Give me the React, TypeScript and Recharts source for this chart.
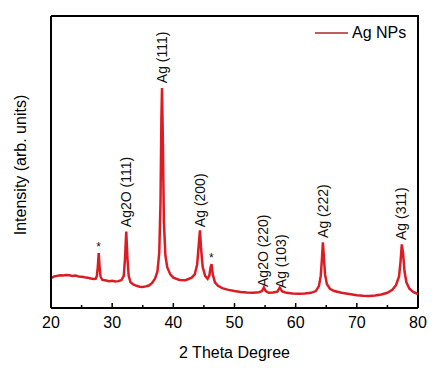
import { ComposedChart, Line, Scatter, XAxis, YAxis, Label, Legend } from 'recharts';

// XRD pattern (arbitrary intensity units, 0-1000 scale)
const angles = [
  20.0, 20.5, 21.0, 21.5, 22.0, 22.5, 23.0, 23.5, 24.0, 24.5, 25.0, 25.5, 26.0, 26.5, 27.0, 27.3, 27.5, 27.65, 27.8, 27.95,
  28.1, 28.4, 29.0, 29.5, 30.0, 30.5, 31.0, 31.5, 31.9, 32.1, 32.3, 32.5, 32.7, 33.0, 33.5, 34.0, 34.5, 35.0, 35.5, 36.0,
  36.5, 37.0, 37.4, 37.7, 37.9, 38.05, 38.15, 38.3, 38.45, 38.7, 39.0, 39.5, 40.0, 41.0, 42.0, 43.0, 43.5, 43.9, 44.15, 44.35,
  44.55, 44.8, 45.2, 45.6, 45.9, 46.1, 46.25, 46.45, 46.8, 47.3, 48.0, 49.0, 50.0, 51.0, 52.0, 53.0, 54.0, 54.5, 54.8, 55.1,
  55.6, 56.3, 57.0, 57.4, 57.8, 58.5, 59.5, 60.5, 61.5, 62.5, 63.3, 63.8, 64.1, 64.3, 64.45, 64.6, 64.8, 65.1, 65.6, 66.3,
  67.5, 69.0, 70.0, 71.0, 72.0, 73.0, 74.0, 75.0, 75.8, 76.4, 76.9, 77.15, 77.35, 77.55, 77.8, 78.1, 78.6, 79.2, 80.0,
];
const intensities = [
  102, 108, 110, 112, 111, 113, 112, 110, 111, 108, 107, 105, 104, 101, 99, 100, 110, 140, 188, 140,
  108, 96, 94, 92, 93, 91, 92, 95, 110, 170, 262, 170, 110, 88, 80, 76, 73, 72, 74, 77,
  85, 100, 125, 190, 360, 650, 753, 560, 300, 180, 140, 115, 104, 96, 95, 104, 115, 150, 215, 266,
  200, 140, 110, 100, 112, 140, 150, 115, 88, 76, 68, 62, 58, 55, 53, 52, 54, 58, 70, 58,
  52, 53, 56, 70, 57, 52, 50, 49, 50, 52, 58, 75, 110, 170, 225, 180, 115, 82, 66, 58,
  52, 47, 44, 42, 41, 43, 46, 52, 62, 78, 108, 160, 218, 190, 125, 88, 66, 55, 48,
];

const peakLabels = ['Ag2O (111)', 'Ag (111)', 'Ag (200)', 'Ag2O (220)', 'Ag (103)', 'Ag (222)', 'Ag (311)'];
const labelAngles = [32.2, 38.1, 44.3, 54.7, 57.6, 64.5, 77.3];
const labelLevels = [277, 770, 277, 72, 68, 240, 233];

const starAngles = [27.8, 46.2];
const starLevels = [209, 171];

const xTicks = [20, 25, 30, 35, 40, 45, 50, 55, 60, 65, 70, 75, 80];

// top and right edges of the box, traced through the domain corners
const frameAngles = [20, 80, 80];
const frameLevels = [1000, 1000, 0];

const pattern = angles.map((angle, i) => ({ angle, intensity: intensities[i] }));
const peakData = peakLabels.map((text, i) => ({ angle: labelAngles[i], level: labelLevels[i], text }));
const starData = starAngles.map((angle, i) => ({ angle, level: starLevels[i] }));
const frameData = frameAngles.map((angle, i) => ({ angle, edge: frameLevels[i] }));

const FONT = '"Liberation Sans", Arial, sans-serif';
const RED = '#dc1c24';

const AngleTick = ({ x, y, payload }: { x: number; y: number; payload: { value: number } }) => {
  const major = payload.value % 10 === 0;
  return (
    <g>
      <line x1={x} y1={y} x2={x} y2={y - (major ? 5 : 3)} stroke="#000" strokeWidth={1.5} />
      {major && (
        <text x={x} y={y + 20} textAnchor="middle" fontFamily={FONT} fontSize={16} fill="#000">
          {payload.value}
        </text>
      )}
    </g>
  );
};

const PeakLabel = ({ cx, cy, payload }: { cx: number; cy: number; payload: { text: string } }) => (
  <text
    x={cx}
    y={cy}
    transform={`rotate(-90, ${cx}, ${cy})`}
    textAnchor="start"
    dominantBaseline="central"
    fontFamily={FONT}
    fontSize={14}
    fill="#111"
  >
    {payload.text}
  </text>
);

const StarMark = ({ cx, cy }: { cx: number; cy: number }) => (
  <text x={cx} y={cy} textAnchor="middle" dominantBaseline="central" fontFamily={FONT} fontSize={12} fill="#111">
    *
  </text>
);

export default function App() {
  return (
    <div style={{ position: 'absolute', left: 0, top: 0, width: 439, height: 370, background: '#fff' }}>
      <ComposedChart width={439} height={370} margin={{ top: 16, right: 21, left: 0, bottom: 0 }}>
        <XAxis
          xAxisId="main"
          type="number"
          dataKey="angle"
          domain={[20, 80]}
          ticks={xTicks}
          interval={0}
          height={62}
          tickLine={false}
          tickSize={0}
          tickMargin={0}
          tick={AngleTick}
          axisLine={{ stroke: '#000', strokeWidth: 2 }}
        >
          <Label
            content={({ viewBox }: any) => (
              <text
                x={viewBox.x + viewBox.width / 2}
                y={viewBox.y + 50}
                textAnchor="middle"
                fontFamily={FONT}
                fontSize={16}
                fill="#000"
              >
                2 Theta Degree
              </text>
            )}
          />
        </XAxis>
        <YAxis
          yAxisId="left"
          type="number"
          domain={[0, 1000]}
          width={51}
          tick={false}
          tickLine={false}
          axisLine={{ stroke: '#000', strokeWidth: 2 }}
        >
          <Label
            content={({ viewBox }: any) => {
              const x = viewBox.x + 20;
              const y = viewBox.y + viewBox.height / 2 + 3;
              return (
                <text
                  x={x}
                  y={y}
                  transform={`rotate(-90, ${x}, ${y})`}
                  textAnchor="middle"
                  dominantBaseline="central"
                  fontFamily={FONT}
                  fontSize={16}
                  fill="#000"
                >
                  Intensity (arb. units)
                </text>
              );
            }}
          />
        </YAxis>
        <Legend
          layout="horizontal"
          verticalAlign="middle"
          align="center"
          wrapperStyle={{ top: 25, left: 315, width: 110 }}
          content={() => (
            <div style={{ display: 'flex', alignItems: 'center', fontFamily: FONT, fontSize: 16, lineHeight: '16px' }}>
              <svg width={37} height={4}>
                <line x1={0} y1={2} x2={33} y2={2} stroke="#a82828" strokeWidth={1.5} />
              </svg>
              <span style={{ color: '#000' }}>Ag NPs</span>
            </div>
          )}
        />
        <Line
          xAxisId="main"
          yAxisId="left"
          data={frameData}
          dataKey="edge"
          legendType="none"
          type="linear"
          stroke="#000"
          strokeWidth={2}
          dot={false}
          activeDot={false}
          isAnimationActive={false}
        />
        <Line
          xAxisId="main"
          yAxisId="left"
          data={pattern}
          dataKey="intensity"
          name="Ag NPs"
          type="linear"
          stroke={RED}
          strokeWidth={2.5}
          dot={false}
          isAnimationActive={false}
        />
        <Scatter
          xAxisId="main"
          yAxisId="left"
          data={peakData}
          dataKey="level"
          legendType="none"
          shape={PeakLabel as any}
          isAnimationActive={false}
        />
        <Scatter
          xAxisId="main"
          yAxisId="left"
          data={starData}
          dataKey="level"
          legendType="none"
          shape={StarMark as any}
          isAnimationActive={false}
        />
      </ComposedChart>
    </div>
  );
}
